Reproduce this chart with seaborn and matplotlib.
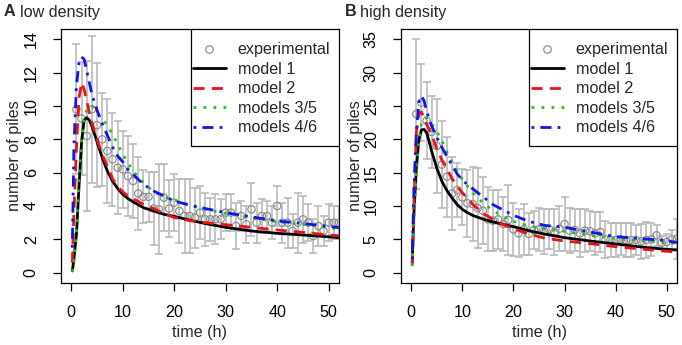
import numpy as np
import pandas as pd
import matplotlib
matplotlib.use("Agg")
import matplotlib.pyplot as plt
from matplotlib.lines import Line2D
from matplotlib.patches import Rectangle
import seaborn as sns

# ---- data ----
hours = list(range(1, 53))

exp_low = [9.8, 9.25, 8.2, 9.8, 8.85, 8.0, 7.3, 6.8, 6.3, 6.2, 5.8, 5.5, 4.75, 4.55, 4.55,
           3.85, 3.8, 4.5, 3.85, 4.2, 3.7, 3.4, 3.4, 3.3, 3.6, 3.2, 3.2, 3.2, 3.2, 3.6,
           3.6, 2.8, 3.4, 2.9, 3.8, 3.0, 3.4, 3.4, 3.0, 4.0, 3.0, 3.0, 2.5, 3.0, 3.2,
           3.0, 2.2, 2.8, 2.5, 3.0, 3.0, 3.0]
sd_low = [3.9, 3.4, 4.5, 4.4, 3.7, 2.8, 3.1, 2.8, 2.8, 2.3, 2.4, 2.2, 2.2, 1.6, 1.5,
          2.2, 2.7, 2.0, 1.7, 1.7, 1.9, 2.2, 2.2, 1.8, 1.6, 1.6, 1.3, 1.5, 1.2, 1.1,
          1.1, 1.4, 0.9, 1.1, 1.6, 1.2, 1.0, 0.9, 1.0, 1.2, 1.2, 1.5, 1.0, 1.8, 1.4,
          1.1, 1.0, 1.2, 0.9, 1.1, 1.0, 1.0]

exp_high = [23.8, 25.5, 22.8, 21.1, 19.0, 16.2, 14.4, 11.9, 12.4, 11.3, 10.4, 10.3, 9.7,
            9.3, 8.0, 7.8, 8.0, 7.3, 7.9, 6.5, 5.9, 6.5, 5.8, 6.4, 6.5, 6.2, 6.5, 6.1,
            6.6, 7.3, 6.3, 6.4, 5.9, 6.3, 6.2, 5.9, 6.1, 5.0, 4.9, 4.9, 5.0, 4.9, 4.9,
            4.9, 4.7, 4.9, 5.0, 5.6, 4.5, 4.6, 5.0, 5.1]
sd_high = [11.2, 5.8, 5.8, 5.4, 7.0, 6.5, 6.0, 5.5, 4.0, 4.2, 5.0, 5.6, 6.0, 5.0, 4.8,
           4.6, 4.4, 4.0, 5.2, 4.0, 3.6, 3.8, 3.2, 2.8, 3.2, 3.4, 3.0, 3.4, 3.4, 4.0,
           3.4, 3.2, 3.6, 3.2, 3.0, 3.2, 3.0, 2.8, 2.6, 2.5, 2.4, 2.6, 2.5, 2.2, 2.6,
           2.7, 2.5, 1.6, 1.0, 1.2, 1.4, 3.0]

t_model = [0.2, 0.5, 1, 1.5, 2, 2.5, 3, 3.5, 4, 5, 6, 7, 8, 9, 10, 11, 12, 14, 16, 18,
           20, 23, 26, 30, 35, 40, 45, 50, 52]

low_m1 = [0.1, 0.8, 2.3, 5.2, 7.9, 9.15, 9.3, 9.15, 8.8, 7.85, 6.9, 6.1, 5.5, 5.05, 4.7,
          4.45, 4.25, 3.9, 3.7, 3.5, 3.38, 3.15, 2.95, 2.72, 2.5, 2.36, 2.26, 2.15, 2.1]
low_m2 = [0.6, 3.5, 7.5, 10.5, 11.4, 11.0, 10.3, 9.6, 9.0, 8.0, 7.1, 6.4, 5.65, 5.15,
          4.85, 4.6, 4.45, 4.1, 3.85, 3.55, 3.3, 3.12, 3.0, 2.88, 2.72, 2.56, 2.42, 2.26, 2.22]
low_m35 = [0.05, 0.6, 2.5, 5.8, 8.0, 9.2, 9.8, 10.0, 10.0, 9.6, 9.2, 8.85, 8.3, 7.7, 7.1,
           6.6, 6.1, 5.4, 4.85, 4.55, 4.35, 4.05, 3.8, 3.55, 3.3, 3.05, 2.9, 2.7, 2.62]
low_m46 = [1.5, 7.5, 11.2, 12.6, 12.95, 12.8, 12.1, 11.4, 10.7, 9.75, 8.95, 8.25, 7.55,
           7.0, 6.65, 6.2, 5.9, 5.3, 4.9, 4.6, 4.3, 4.05, 3.85, 3.6, 3.35, 3.1, 2.95, 2.78, 2.7]

high_m1 = [1.5, 8.5, 15.6, 20.0, 21.4, 21.5, 21.0, 19.7, 18.2, 15.7, 13.7, 12.3, 11.2,
           10.2, 9.5, 9.0, 8.6, 8.05, 7.6, 7.25, 6.9, 6.3, 5.8, 5.25, 4.75, 4.3, 3.85, 3.5, 3.4]
high_m2 = [1.2, 10.0, 21.0, 23.8, 24.1, 23.2, 22.3, 21.5, 20.7, 18.6, 16.9, 15.5, 14.1,
           12.9, 12.0, 11.1, 10.3, 8.9, 8.0, 7.2, 6.6, 5.8, 5.2, 4.75, 4.35, 3.9, 3.55, 3.2, 3.1]
high_m35 = [1.0, 7.0, 15.0, 20.0, 22.3, 23.2, 23.2, 22.8, 22.3, 21.2, 19.8, 18.1, 16.6,
            15.2, 14.0, 13.0, 12.0, 10.5, 9.3, 8.4, 7.7, 7.0, 6.6, 6.2, 5.6, 5.1, 4.8, 4.5, 4.4]
high_m46 = [2.0, 12.0, 21.0, 25.6, 26.5, 25.8, 24.3, 23.1, 22.0, 20.3, 18.8, 17.4, 16.1,
            14.8, 13.9, 13.2, 12.6, 11.4, 10.2, 9.4, 8.6, 7.7, 7.1, 6.8, 6.1, 5.4, 5.1, 4.8, 4.5]

model_names = ["model 1", "model 2", "models 3/5", "models 4/6"]
model_colors = {"model 1": "black", "model 2": "#E8141B",
                "models 3/5": "#1FC01F", "models 4/6": "#1414E6"}
model_dashes = {"model 1": "", "model 2": (4, 2.6),
                "models 3/5": (1, 2.6), "models 4/6": (1, 2.2, 4, 2.2)}

# ---- style ----
sns.set_style("white")
plt.rcParams["font.family"] = ["Liberation Sans", "DejaVu Sans"]
fs = 11.6
pt_grey = "#8a8a8a"
bar_grey = "#b4b4b4"

fig = plt.figure(figsize=(6.82, 3.45), dpi=100)
ax_a = fig.add_axes([61 / 682, 1 - 283 / 345, 278 / 682, 254 / 345])
ax_b = fig.add_axes([401 / 682, 1 - 283 / 345, 276 / 682, 254 / 345])


def draw_panel(ax, exp, sd, models, ylim, yticks, box_left):
    ax.errorbar(hours, exp, yerr=sd, fmt="none", ecolor=bar_grey, elinewidth=1.1,
                capsize=2.6, capthick=1.1, zorder=1)
    sns.scatterplot(x=hours, y=exp, ax=ax, marker="o", s=28, facecolor="none",
                    edgecolor=pt_grey, linewidth=0.85, zorder=2)
    frames = []
    for name, vals in zip(model_names, models):
        frames.append(pd.DataFrame({"t": t_model, "v": vals, "model": name}))
    df = pd.concat(frames, ignore_index=True)
    sns.lineplot(data=df, x="t", y="v", hue="model", style="model", ax=ax,
                 palette=model_colors, dashes=model_dashes, linewidth=2.0,
                 legend=False, sort=False, zorder=3)
    ax.set_xlim(-2, 52)
    ax.set_ylim(*ylim)
    ax.set_xticks([0, 10, 20, 30, 40, 50])
    ax.set_yticks(yticks)
    ax.tick_params(direction="out", length=5.5, width=0.9, pad=10.5,
                   labelsize=fs, colors="black", left=True, bottom=True)
    for lab in ax.get_yticklabels():
        lab.set_rotation(90)
        lab.set_va("center")
    for sp in ax.spines.values():
        sp.set_visible(True)
        sp.set_color("black")
        sp.set_linewidth(0.9)
    ax.set_xlabel("time (h)", fontsize=fs)
    ax.set_ylabel("number of piles", fontsize=fs)
    ax.xaxis.label.set_va("center")
    ax.yaxis.label.set_va("center")
    ax.xaxis.set_label_coords(0.5, -0.193)
    ax.yaxis.set_label_coords(-0.166, 0.5)

    # legend box drawn as a plain rectangle (R style)
    ax.add_patch(Rectangle((box_left, 0.5405), 1 - box_left, 0.4595,
                           transform=ax.transAxes, facecolor="white",
                           edgecolor="black", linewidth=0.9, zorder=4))
    handles = [Line2D([], [], ls="none", marker="o", mfc="none", mec=pt_grey,
                      ms=5.4, mew=0.85, label="experimental")]
    for name in model_names:
        d = model_dashes[name]
        h = Line2D([], [], color=model_colors[name], lw=2.0, label=name)
        if d:
            h.set_dashes(d)
        handles.append(h)
    leg = ax.legend(handles=handles, loc="upper right",
                    bbox_to_anchor=(1 - 1.5 / 278, 1 - 6 / 254), borderaxespad=0,
                    fontsize=fs, frameon=False, handlelength=2.05,
                    handletextpad=0.75, labelspacing=0.28, borderpad=0.45)
    leg.set_zorder(5)


draw_panel(ax_a, exp_low, sd_low, [low_m1, low_m2, low_m35, low_m46],
           (-0.62, 14.62), [0, 2, 4, 6, 8, 10, 12, 14], 0.4665)
draw_panel(ax_b, exp_high, sd_high, [high_m1, high_m2, high_m35, high_m46],
           (-1.55, 36.55), [0, 5, 10, 15, 20, 25, 30, 35], 0.4627)

# panel titles
base_y = 1 - 16.5 / 345
fig.text(4 / 682, base_y, "A", fontsize=fs, fontweight="bold", va="baseline")
fig.text(19.5 / 682, base_y, "low density", fontsize=fs, va="baseline")
fig.text(345 / 682, base_y, "B", fontsize=fs, fontweight="bold", va="baseline")
fig.text(360.5 / 682, base_y, "high density", fontsize=fs, va="baseline")

fig.savefig("out.png", dpi=100)
